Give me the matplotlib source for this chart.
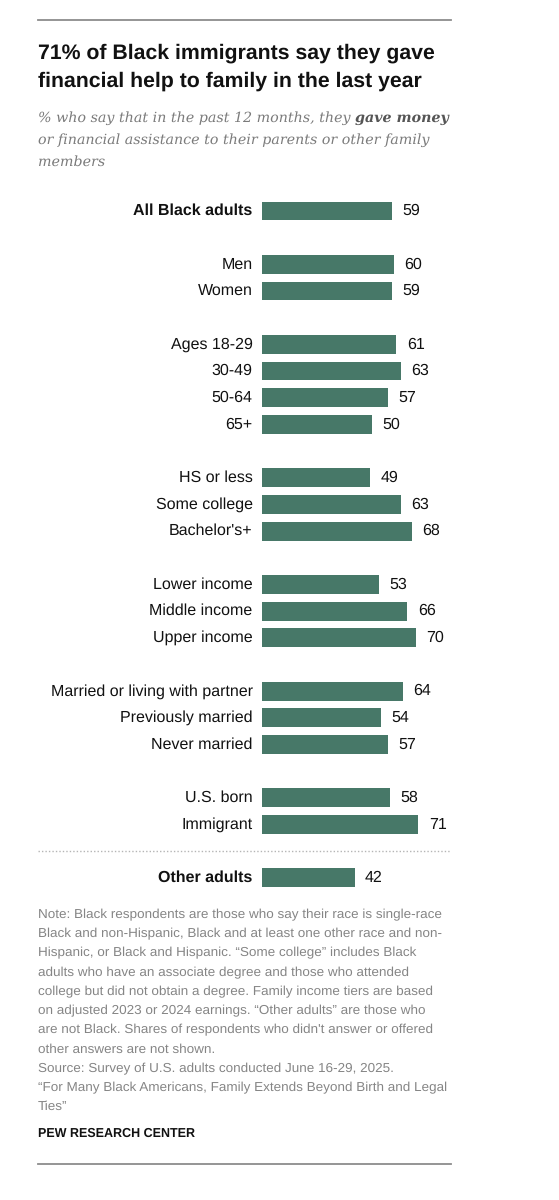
import matplotlib.pyplot as plt
from matplotlib.lines import Line2D

labels = ["All Black adults", "Men", "Women", "Ages 18-29", "30-49", "50-64", "65+",
          "HS or less", "Some college", "Bachelor's+",
          "Lower income", "Middle income", "Upper income",
          "Married or living with partner", "Previously married", "Never married",
          "U.S. born", "Immigrant", "Other adults"]
values = [59, 60, 59, 61, 63, 57, 50, 49, 63, 68, 53, 66, 70, 64, 54, 57, 58, 71, 42]
rows = [0, 2, 3, 5, 6, 7, 8, 10, 11, 12, 14, 15, 16, 18, 19, 20, 22, 23, 25]
bold_labels = ["All Black adults", "Other adults"]

W, H = 559, 1200
plt.rcParams["text.hinting"] = "no_hinting"
fig = plt.figure(figsize=(W / 100, H / 100), dpi=100)
plt.rcParams["font.family"] = ["Liberation Sans", "DejaVu Sans"]

green = "#477868"
grey = "#7b7b7b"

# bar axes: x=0 at px 262.3, 2.197 px per point, rows 26.67 px apart starting at y=211
x0, xs = 262.3, 2.197
xmax = 80
top_px = 211 - 0.5 * 26.67
bot_px = 211 + 25.5 * 26.67
ax = fig.add_axes([x0 / W, 1 - bot_px / H, xmax * xs / W, (bot_px - top_px) / H])
ax.set_xlim(0, xmax)
ax.set_ylim(25.5, -0.5)
ax.axis("off")

ax.barh(rows, values, height=0.71, color=green)
for r, lab, v in zip(rows, labels, values):
    w = "bold" if lab in bold_labels else "normal"
    ax.annotate(lab, (0, r), xytext=(-7, 0), textcoords="offset points",
                ha="right", va="center", fontsize=11.5, fontweight=w, color="#111111")
    ax.annotate(str(v), (v, r), xytext=(7.5, 0), textcoords="offset points",
                ha="left", va="center", fontsize=11.5, color="#111111")

# rules
fig.add_artist(Line2D([38 / W, 451 / W], [1 - 20 / H] * 2, color="#8c8c8c", lw=1.3))
fig.add_artist(Line2D([38 / W, 451 / W], [1 - 1164 / H] * 2, color="#8c8c8c", lw=1.3))
fig.add_artist(Line2D([38 / W, 451 / W], [1 - 851 / H] * 2, color="#b5b5b5", lw=1,
                      linestyle=(0, (1, 1.5))))

# title
fig.text(38 / W, 1 - 59 / H, "71% of Black immigrants say they gave", fontsize=15.3,
         fontweight="bold", color="#111111", va="baseline")
fig.text(38 / W, 1 - 87 / H, "financial help to family in the last year", fontsize=15.3,
         fontweight="bold", color="#111111", va="baseline")

# subtitle
sub_kw = dict(family="DejaVu Serif", style="italic", fontsize=10.3, va="baseline")
t1 = fig.text(38 / W, 1 - 122 / H, "% who say that in the past 12 months, they ", color=grey, **sub_kw)
ax.annotate("gave money", xy=(1, 0), xycoords=t1, xytext=(0, 0), textcoords="offset points",
            ha="left", va="bottom", color="#555555", fontweight="bold",
            family="DejaVu Serif", style="italic", fontsize=10.3, annotation_clip=False)
fig.text(38 / W, 1 - 144 / H, "or financial assistance to their parents or other family",
         color=grey, **sub_kw)
fig.text(38 / W, 1 - 166 / H, "members", color=grey, **sub_kw)

# note
note_lines = [
    "Note: Black respondents are those who say their race is single-race",
    "Black and non-Hispanic, Black and at least one other race and non-",
    "Hispanic, or Black and Hispanic. \u201cSome college\u201d includes Black",
    "adults who have an associate degree and those who attended",
    "college but did not obtain a degree. Family income tiers are based",
    "on adjusted 2023 or 2024 earnings. \u201cOther adults\u201d are those who",
    "are not Black. Shares of respondents who didn't answer or offered",
    "other answers are not shown.",
    "Source: Survey of U.S. adults conducted June 16-29, 2025.",
    "\u201cFor Many Black Americans, Family Extends Beyond Birth and Legal",
    "Ties\u201d",
]
for i, line in enumerate(note_lines):
    fig.text(38 / W, 1 - (915 + i * 19.2) / H, line, fontsize=9.7, color="#858585", va="center")

fig.text(38 / W, 1 - 1134 / H, "PEW RESEARCH CENTER", fontsize=9, fontweight="bold",
         color="#111111", va="center")

fig.savefig("out.png", dpi=100, facecolor="white")
